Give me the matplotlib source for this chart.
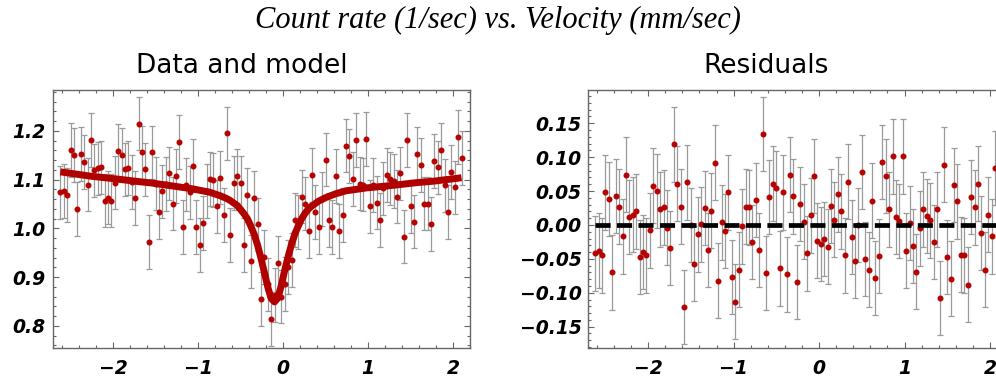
#!/usr/bin/env python3
# -*- coding: utf-8 -*-
"""
Mössbauer-style spectrum: data with model (left) and residuals (right).
"""
import matplotlib
matplotlib.use("Agg")
import matplotlib.pyplot as plt
from matplotlib.ticker import MultipleLocator, FuncFormatter

# velocity channels (mm/sec)
velocity = [
    -2.62, -2.58, -2.54, -2.50, -2.46, -2.42, -2.38, -2.34, -2.30, -2.26,
    -2.22, -2.18, -2.14, -2.10, -2.06, -2.02, -1.98, -1.94, -1.90, -1.86,
    -1.82, -1.78, -1.74, -1.70, -1.66, -1.62, -1.58, -1.54, -1.50, -1.46,
    -1.42, -1.38, -1.34, -1.30, -1.26, -1.22, -1.18, -1.14, -1.10, -1.06,
    -1.02, -0.98, -0.94, -0.90, -0.86, -0.82, -0.78, -0.74, -0.70, -0.66,
    -0.62, -0.58, -0.54, -0.50, -0.46, -0.42, -0.38, -0.34, -0.30, -0.26,
    -0.22, -0.18, -0.14, -0.10, -0.06, -0.02, 0.02, 0.06, 0.10, 0.14,
    0.18, 0.22, 0.26, 0.30, 0.34, 0.38, 0.42, 0.46, 0.50, 0.54,
    0.58, 0.62, 0.66, 0.70, 0.74, 0.78, 0.82, 0.86, 0.90, 0.94,
    0.98, 1.02, 1.06, 1.10, 1.14, 1.18, 1.22, 1.26, 1.30, 1.34,
    1.38, 1.42, 1.46, 1.50, 1.54, 1.58, 1.62, 1.66, 1.70, 1.74,
    1.78, 1.82, 1.86, 1.90, 1.94, 1.98, 2.02, 2.06, 2.10,
]

# count rate (1/sec)
count_rate = [
    1.074, 1.077, 1.068, 1.161, 1.150, 1.040, 1.153, 1.136, 1.090, 1.181,
    1.119, 1.123, 1.125, 1.057, 1.063, 1.057, 1.094, 1.159, 1.150, 1.121,
    1.124, 1.095, 1.062, 1.215, 1.156, 1.121, 0.972, 1.156, 1.092, 1.034,
    1.076, 1.091, 1.113, 1.051, 1.107, 1.177, 1.003, 1.090, 1.074, 1.129,
    1.003, 0.966, 1.011, 1.077, 1.101, 1.099, 1.045, 1.104, 1.028, 1.195,
    0.986, 1.093, 1.108, 1.093, 0.966, 1.068, 0.932, 1.062, 1.008, 0.855,
    0.941, 0.885, 0.814, 0.863, 0.929, 0.860, 0.886, 0.921, 0.935, 1.017,
    1.013, 1.065, 1.051, 0.995, 1.110, 1.034, 1.003, 1.060, 1.141, 1.017,
    1.003, 1.107, 0.995, 1.028, 1.170, 1.149, 1.101, 1.181, 1.092, 1.090,
    1.184, 1.045, 1.089, 1.053, 1.017, 1.082, 1.110, 1.102, 1.097, 1.065,
    1.113, 0.983, 1.181, 1.045, 1.014, 1.153, 1.130, 1.051, 1.051, 1.009,
    1.138, 1.125, 1.161, 1.088, 1.034, 1.116, 1.084, 1.187, 1.144,
]

# residuals (data - model)
residuals = [
    -0.042, -0.038, -0.045, 0.048, 0.038, -0.070, 0.043, 0.027, -0.017, 0.074,
    0.012, 0.015, 0.020, -0.047, -0.040, -0.045, -0.008, 0.058, 0.050, 0.023,
    0.026, -0.004, -0.034, 0.119, 0.061, 0.027, -0.121, 0.063, 0.000, -0.057,
    -0.014, 0.001, 0.025, -0.037, 0.021, 0.092, -0.082, 0.004, -0.009, 0.048,
    -0.077, -0.113, -0.066, -0.002, 0.027, 0.026, -0.025, 0.037, -0.037, 0.134,
    -0.071, 0.041, 0.061, 0.054, -0.064, 0.048, -0.073, 0.074, 0.042, -0.084,
    0.031, 0.005, -0.042, 0.014, 0.072, -0.023, -0.028, -0.021, -0.032, 0.028,
    0.008, 0.045, 0.020, -0.045, 0.064, -0.018, -0.053, 0.000, 0.078, -0.050,
    -0.066, 0.036, -0.078, -0.046, 0.093, 0.072, 0.023, 0.101, 0.012, 0.006,
    0.101, -0.038, 0.003, -0.031, -0.069, -0.005, 0.023, 0.013, 0.007, -0.025,
    0.023, -0.108, 0.089, -0.047, -0.079, 0.059, 0.035, -0.044, -0.045, -0.088,
    0.041, 0.026, 0.061, -0.012, -0.066, 0.015, -0.017, 0.084, 0.040,
]

# error bar half-height
error = 0.055

# fitted model
model_v = [
    -2.62, -2.50, -2.26, -1.94, -1.70, -1.54, -1.22, -1.06, -0.86, -0.74,
    -0.66, -0.62, -0.54, -0.50, -0.46, -0.42, -0.38, -0.34, -0.30, -0.26,
    -0.22, -0.18, -0.14, -0.10, -0.06, -0.02, 0.02, 0.06, 0.10, 0.14,
    0.18, 0.22, 0.26, 0.30, 0.34, 0.42, 0.50, 0.62, 0.74, 0.86,
    0.98, 1.22, 1.38, 1.58, 1.78, 2.06, 2.10,
]
model_y = [
    1.116, 1.113, 1.107, 1.101, 1.096, 1.093, 1.085, 1.081, 1.074, 1.067,
    1.061, 1.057, 1.047, 1.039, 1.030, 1.020, 1.005, 0.988, 0.966, 0.939,
    0.910, 0.880, 0.856, 0.849, 0.857, 0.883, 0.914, 0.942, 0.967, 0.989,
    1.005, 1.020, 1.031, 1.040, 1.046, 1.056, 1.063, 1.071, 1.077, 1.080,
    1.083, 1.087, 1.090, 1.094, 1.097, 1.103, 1.104,
]

RED = '#b80000'
BAR = '#9a9a9a'
FRAME = '#666666'
tick_font = {'family': 'DejaVu Sans', 'weight': 'bold', 'style': 'italic', 'size': 13.5}


def minus(fmt):
    return FuncFormatter(lambda v, p: (fmt % v).replace('-', '\u2212'))


def style_axes(ax, ymajor, yminor, yfmt):
    for s in ax.spines.values():
        s.set_color(FRAME)
        s.set_linewidth(1.0)
    ax.xaxis.set_major_locator(MultipleLocator(1))
    ax.xaxis.set_minor_locator(MultipleLocator(0.2))
    ax.yaxis.set_major_locator(MultipleLocator(ymajor))
    ax.yaxis.set_minor_locator(MultipleLocator(yminor))
    ax.xaxis.set_major_formatter(minus('%d'))
    ax.yaxis.set_major_formatter(minus(yfmt))
    ax.tick_params(which='both', direction='in', top=True, right=True, color=FRAME, width=0.8)
    ax.tick_params(which='major', length=4.5)
    ax.tick_params(which='minor', length=2.5)
    ax.tick_params(axis='x', pad=8)
    ax.tick_params(axis='y', pad=5)
    for lab in ax.get_xticklabels() + ax.get_yticklabels():
        lab.set_fontproperties(matplotlib.font_manager.FontProperties(**tick_font))


fig = plt.figure(figsize=(9.96, 3.79), dpi=100)
ax1 = fig.add_axes([0.0529, 0.0826, 0.4190, 0.6799])
ax2 = fig.add_axes([0.5907, 0.0826, 0.4204, 0.6799])

# 1. data and model
ax1.errorbar(velocity, count_rate, yerr=error, fmt='o', ms=3.3, color=RED, mec=RED,
             ecolor=BAR, elinewidth=0.9, capsize=2.4, capthick=0.9, zorder=2)
ax1.plot(model_v, model_y, color='#b00000', lw=5, solid_capstyle='butt', zorder=3)
ax1.set_xlim(-2.71, 2.20)
ax1.set_ylim(0.755, 1.284)
style_axes(ax1, 0.1, 0.02, '%.1f')

# 2. residuals
ax2.errorbar(velocity, residuals, yerr=error, fmt='o', ms=3.3, color=RED, mec=RED,
             ecolor=BAR, elinewidth=0.9, capsize=2.4, capthick=0.9, zorder=2)
ax2.plot([velocity[0], velocity[-1]], [0, 0], color='black', lw=3.4,
         dashes=(3.2, 1.35), dash_capstyle='butt', zorder=3)
ax2.set_xlim(-2.70, 2.20)
ax2.set_ylim(-0.181, 0.199)
style_axes(ax2, 0.05, 0.01, '%.2f')

# 3. titles
fig.text(0.5, 0.947, 'Count rate (1/sec) vs. Velocity (mm/sec)', ha='center', va='center',
         family='Liberation Serif', style='italic', fontsize=22)
fig.text(0.243, 0.826, 'Data and model', ha='center', va='center', family='DejaVu Sans', fontsize=19)
fig.text(0.769, 0.826, 'Residuals', ha='center', va='center', family='DejaVu Sans', fontsize=19)

fig.savefig('out.png', dpi=100)
